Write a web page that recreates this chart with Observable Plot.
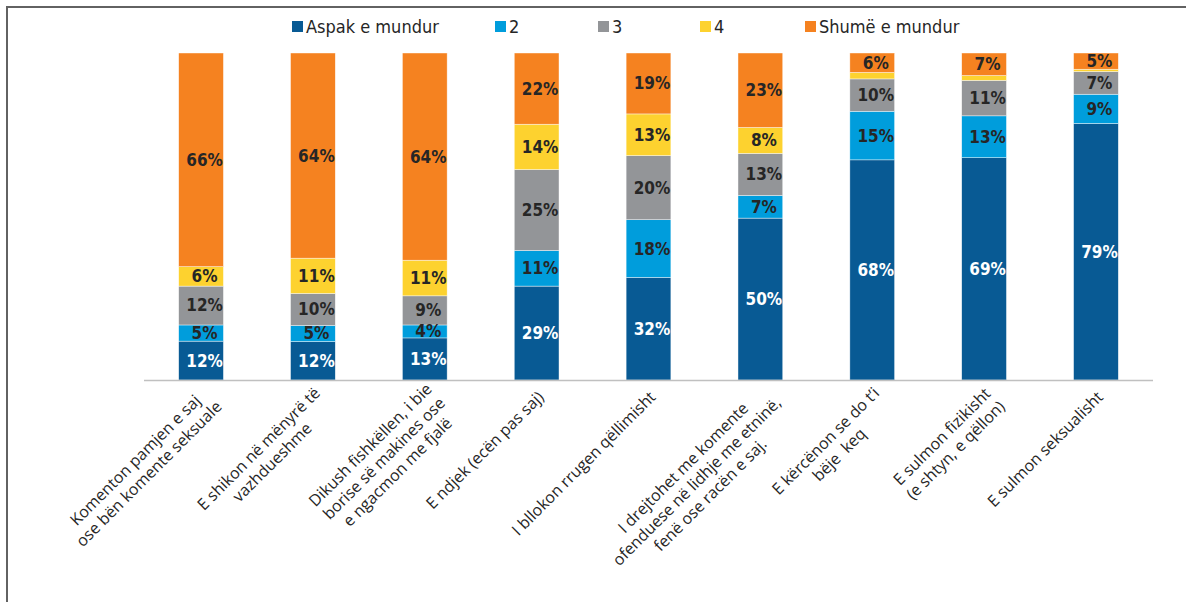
<!DOCTYPE html>
<html>
<head>
<meta charset="utf-8">
<script src="https://cdn.jsdelivr.net/npm/d3@7"></script>
<script src="https://cdn.jsdelivr.net/npm/@observablehq/plot@0.6"></script>
<style>
  html, body { margin: 0; padding: 0; background: #fff; }
  #wrap { position: relative; width: 1186px; height: 602px; overflow: hidden; }
  #frame { position: absolute; left: 6px; top: 6px; width: 1200px; height: 620px;
           border-top: 2px solid #626262; border-left: 2px solid #626262; }
  #legend { position: relative; height: 40px; font-family: "DejaVu Sans Condensed", "DejaVu Sans", sans-serif;
            font-stretch: condensed; font-size: 18px; color: #262626; }
  .item { position: absolute; top: 16px; display: flex; align-items: center; white-space: nowrap; }
  .sw { width: 11px; height: 11px; margin-right: 3px; }
  #chart svg { display: block; }
  .dl text { font-stretch: condensed; }
</style>
</head>
<body>
<div id="wrap">
  <div id="frame"></div>
  <div id="legend"></div>
  <div id="chart"></div>
</div>
<script>
const categories = [
  "Komenton pamjen e saj\nose bën komente seksuale",
  "E shikon në mënyrë të\nvazhdueshme",
  "Dikush fishkëllen, i bie\nborise së makines ose\ne ngacmon me fjalë",
  "E ndjek (ecën pas saj)",
  "I bllokon rrugen qëllimisht",
  "I drejtohet me komente\nofenduese në lidhje me etninë,\nfenë ose racën e saj.",
  "E kërcënon se do t’i\nbëje  keq",
  "E sulmon fizikisht\n(e shtyn, e qëllon)",
  "E sulmon seksualisht"
];
const seriesNames = ["Aspak e mundur", "2", "3", "4", "Shumë e mundur"];
const seriesColors = ["#085a94", "#009ddc", "#939598", "#fdd22f", "#f58220"];
const labelColors = ["#ffffff", "#262626", "#262626", "#262626", "#262626"];

const aspak  = [12, 12, 13, 29, 32, 50, 68, 69, 79];
const s2     = [5, 5, 4, 11, 18, 7, 15, 13, 9];
const s3     = [12, 10, 9, 25, 20, 13, 10, 11, 7];
const s4     = [6, 11, 11, 14, 13, 8, 2, 1.5, 0.7];
const shume  = [66, 64, 64, 22, 19, 23, 6, 7, 5];
const seriesValues = [aspak, s2, s3, s4, shume];

const data = categories.flatMap((c, i) =>
  seriesNames.map((s, j) => ({category: c, series: s, value: seriesValues[j][i], idx: j}))
);

// legend
const legendLefts = [292, 495, 598, 700, 805];
const legend = document.getElementById("legend");
seriesNames.forEach((s, j) => {
  const it = document.createElement("div");
  it.className = "item";
  it.style.left = legendLefts[j] + "px";
  it.innerHTML = `<span class="sw" style="background:${seriesColors[j]}"></span><span>${s}</span>`;
  legend.appendChild(it);
});

// measure tick label lines with real SVG text
const tickFont = 16;
const tmp = d3.select("body").append("svg").attr("width", 10).attr("height", 10);
const tt = tmp.append("text").attr("font-family", "Open Sans").attr("font-size", tickFont);
function textWidth(s) { tt.text(s); return tt.node().getComputedTextLength(); }
const widths = categories.map(c => d3.max(c.split("\n"), textWidth));
const nLines = categories.map(c => c.split("\n").length);
tmp.remove();

// tick labels: centered multi-line, rotated -45°, anchored below each bar
const c45 = Math.SQRT1_2;
const labelMarks = categories.map((c, i) => {
  const w = widths[i];
  const ax = -2, ay = 8 - 4 * (nLines[i] - 1);
  return Plot.text([c], {
    x: d => d, frameAnchor: "bottom",
    text: d => d,
    rotate: -45, textAnchor: "middle", lineAnchor: "top", lineHeight: 1.2,
    dx: ax - c45 * w / 2, dy: ay + c45 * w / 2,
    fontFamily: "Open Sans", fontSize: tickFont, fill: "#262626"
  });
});

const chart = Plot.plot({
  width: 1186, height: 562,
  marginTop: 13, marginBottom: 222, marginLeft: 144, marginRight: 33,
  x: {domain: categories, paddingInner: 0.6, paddingOuter: 0.31, round: false, axis: null},
  y: {axis: null},
  color: {domain: seriesNames, range: seriesColors},
  marks: [
    Plot.barY(data, Plot.stackY({
      offset: "normalize", x: "category", y: "value", z: "series",
      fill: "series", stroke: "#ffffff", strokeWidth: 0.6, strokeOpacity: 0.7
    })),
    Plot.text(data, Plot.stackY({
      offset: "normalize", x: "category", y: "value", z: "series",
      text: d => d.value >= 3 ? d.value + "%" : "",
      fill: d => labelColors[d.idx], dx: 3, className: "dl",
      fontFamily: "DejaVu Sans Condensed, DejaVu Sans", fontWeight: "bold", fontSize: 17
    })),
    Plot.ruleY([0], {stroke: "#c0c0c0", strokeWidth: 1.5}),
    ...labelMarks
  ]
});
document.getElementById("chart").appendChild(chart);
</script>
</body>
</html>
